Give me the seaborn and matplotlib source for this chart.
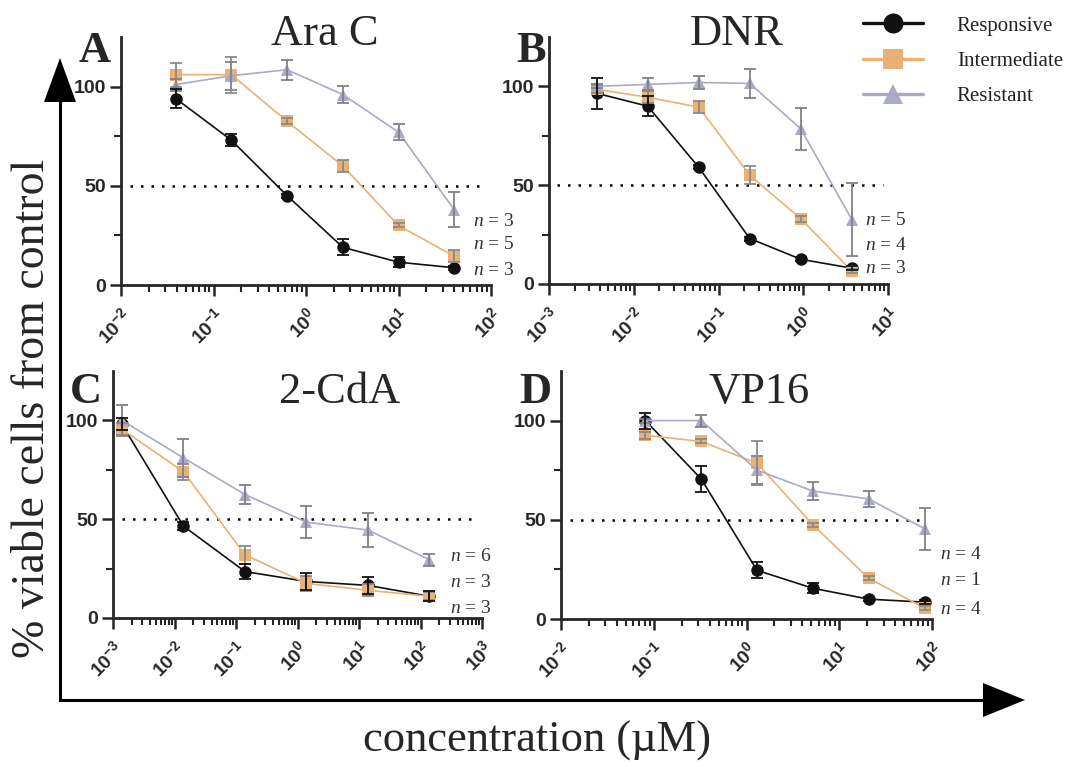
import numpy as np
import pandas as pd
import matplotlib.pyplot as plt
from matplotlib.patches import Polygon
from matplotlib.ticker import FixedLocator, LogLocator, NullFormatter
import seaborn as sns

FIG_W, FIG_H = 1069, 767

GROUPS = ["Responsive", "Intermediate", "Resistant"]
PALETTE = {"Responsive": "#111111", "Intermediate": "#E9B274", "Resistant": "#A9ABC6"}
ERR_COLORS = {"Responsive": "#111111", "Intermediate": "#8A8A8A", "Resistant": "#808088"}
MARKERS = {"Responsive": "o", "Intermediate": "s", "Resistant": "^"}

# ---------------------------------------------------------------------------
# Data (mean % viable cells, SEM)
# ---------------------------------------------------------------------------

# A - Ara C
arac_conc = [0.039, 0.156, 0.625, 2.5, 10, 40]
arac_resp = [94, 73, 45, 19, 11.5, 8.7]
arac_resp_err = [5, 3, 1, 4, 2.5, 1]
arac_int = [106, 106, 82.5, 60, 30, 14.5]
arac_int_err = [6, 9, 1.5, 3, 1, 3]
arac_res = [101, 105.5, 108.5, 96, 77, 38]
arac_res_err = [3, 7, 5, 4.5, 4, 9]
arac_n = [3, 5, 3]

# B - DNR
dnr_conc = [0.00366, 0.0146, 0.0586, 0.234, 0.9375, 3.75]
dnr_resp = [96.5, 90, 59, 23, 12.5, 8]
dnr_resp_err = [8, 5, 1, 1, 1, 1]
dnr_int = [98.5, 94.5, 89.5, 55, 33, 6.5]
dnr_int_err = [2, 3, 3, 4.5, 1.5, 1]
dnr_res = [100, 101, 102, 101.5, 78.5, 32.5]
dnr_res_err = [1, 3, 3.5, 7.5, 10.5, 18.5]
dnr_n = [5, 4, 3]

# C - 2-CdA
cda_conc = [0.0014, 0.014, 0.14, 1.4, 14, 140]
cda_resp = [98, 46.5, 23.5, 18.5, 16.5, 11]
cda_resp_err = [3, 2, 4, 4.5, 4.5, 2.5]
cda_int = [95.5, 74, 32, 17.5, 14, 11]
cda_int_err = [3, 4, 4.5, 4, 3, 2]
cda_res = [100, 81, 62.5, 48.5, 44.5, 29.5]
cda_res_err = [8, 9.5, 5, 8, 8.5, 3]
cda_n = [6, 3, 3]

# D - VP16
vp_conc = [0.0814, 0.326, 1.3, 5.2, 20.8, 83.3]
vp_resp = [100, 70.5, 24.5, 15.5, 10, 8.5]
vp_resp_err = [4, 6.5, 4, 2.5, 1, 1]
vp_int = [92.5, 89.5, 78.5, 47.5, 20.5, 5.5]
vp_int_err = [2, 1, 11, 1, 1, 1]
vp_res = [100, 100, 75, 64.5, 60.5, 45.5]
vp_res_err = [1, 3, 7, 4.5, 4, 10.5]
vp_n = [4, 1, 4]


# ---------------------------------------------------------------------------
# Helpers
# ---------------------------------------------------------------------------

def px_rect(left, top, right, bottom):
    """Pixel box (origin top-left) -> figure-fraction rect."""
    return [left / FIG_W, 1 - bottom / FIG_H, (right - left) / FIG_W, (bottom - top) / FIG_H]


def make_frame(conc, values, errors):
    rows = []
    for group, ys, es in zip(GROUPS, values, errors):
        for c, v, s in zip(conc, ys, es):
            rows.append((c, v, s, group))
    return pd.DataFrame(rows, columns=["conc", "viability", "sem", "group"])


def draw_panel(ax, df, decades, n_values, n_x, n_y, legend=False):
    ax.patch.set_alpha(0)
    ax.set_xscale("log")

    for g, z in zip(GROUPS, [3.3, 3.2, 3.1]):
        sub = df[df["group"] == g]
        ax.errorbar(sub["conc"], sub["viability"], yerr=sub["sem"], fmt="none",
                    ecolor=ERR_COLORS[g], elinewidth=1.3, capsize=4.5, capthick=1.3,
                    zorder=z)

    sns.lineplot(data=df, x="conc", y="viability", hue="group", style="group",
                 hue_order=GROUPS, style_order=GROUPS, palette=PALETTE,
                 markers=MARKERS, dashes=False, markersize=9,
                 markeredgewidth=0, linewidth=1.2, legend=legend, ax=ax)
    for line, z in zip(ax.lines, [5, 4, 3]):
        line.set_zorder(z)

    ax.axhline(50, xmin=0.025, xmax=0.985, color="black", lw=1.8,
               ls=(0, (1, 3.2)), zorder=1)

    lo, hi = decades
    ax.set_xlim(10.0 ** lo, 10.0 ** hi)
    ax.set_ylim(0, 125)
    exps = np.arange(lo, hi + 1)
    ax.set_xticks(10.0 ** exps)
    ax.set_xticklabels([rf"$\mathbf{{10^{{{e}}}}}$" for e in exps], fontsize=14,
                       rotation=45, ha="right", va="top", rotation_mode="anchor")
    ax.xaxis.set_minor_locator(LogLocator(base=10, subs=np.arange(2, 10), numticks=20))
    ax.xaxis.set_minor_formatter(NullFormatter())
    ax.set_yticks([0, 50, 100])
    ax.set_yticklabels(["0", "50", "100"], fontsize=14, fontweight="bold",
                       family="Liberation Sans")
    ax.yaxis.set_minor_locator(FixedLocator([25, 75]))

    ax.tick_params(which="major", length=8, width=1.8, direction="out", pad=3)
    ax.tick_params(which="minor", length=5, width=1.5, direction="out")
    ax.tick_params(axis="x", which="major", pad=6)
    for s in ["left", "bottom"]:
        ax.spines[s].set_linewidth(2.0)
    sns.despine(ax=ax)
    ax.set_xlabel("")
    ax.set_ylabel("")

    # n = ... annotations at right
    for n, y in zip(n_values, n_y):
        ax.text(n_x, y, rf"$n$ = {n}", transform=ax.get_yaxis_transform(),
                fontsize=14, color="#333333", va="center", ha="left",
                family="Liberation Serif")


# ---------------------------------------------------------------------------
# Main
# ---------------------------------------------------------------------------

def main():
    sns.set_style("ticks")
    plt.rcParams["font.family"] = ["Liberation Serif", "DejaVu Serif"]
    plt.rcParams["mathtext.fontset"] = "custom"
    plt.rcParams["mathtext.rm"] = "Liberation Serif"
    plt.rcParams["mathtext.it"] = "Liberation Serif:italic"
    plt.rcParams["mathtext.bf"] = "Liberation Sans:bold"

    fig = plt.figure(figsize=(FIG_W / 100, FIG_H / 100), dpi=100)

    # overlay for the big arrows / shared labels (pixel coords)
    ov = fig.add_axes([0, 0, 1, 1])
    ov.set_xlim(0, FIG_W)
    ov.set_ylim(FIG_H, 0)
    ov.axis("off")
    ov.plot([60, 60, 985], [100, 700, 700], color="black", lw=2.2,
            solid_joinstyle="miter")
    ov.add_patch(Polygon([(44, 102), (76, 102), (60, 58)], closed=True,
                         color="black", lw=0))
    ov.add_patch(Polygon([(983, 683), (983, 717), (1025, 700)], closed=True,
                         color="black", lw=0))
    ov.text(33, 408, "% viable cells from control", rotation=90, fontsize=33,
            ha="center", va="center")
    ov.text(537, 752, "concentration (\u00b5M)", fontsize=32, ha="center",
            va="baseline")

    panels = [
        ("A", "Ara C", (121, 37, 491, 285), (-2, 2),
         arac_conc, [arac_resp, arac_int, arac_res],
         [arac_resp_err, arac_int_err, arac_res_err], arac_n,
         0.951, [31.8, 20.2, 7.2], (95, 62), (325, 45)),
        ("B", "DNR", (549, 37, 888, 284), (-3, 1),
         dnr_conc, [dnr_resp, dnr_int, dnr_res],
         [dnr_resp_err, dnr_int_err, dnr_res_err], dnr_n,
         0.932, [32, 19.3, 7.6], (531, 62), (737, 45)),
        ("C", "2-CdA", (113, 371, 482, 618), (-3, 3),
         cda_conc, [cda_resp, cda_int, cda_res],
         [cda_resp_err, cda_int_err, cda_res_err], cda_n,
         0.913, [30.9, 17.9, 4.8], (86, 403), (340, 403)),
        ("D", "VP16", (561, 371, 932, 619), (-2, 2),
         vp_conc, [vp_resp, vp_int, vp_res],
         [vp_resp_err, vp_int_err, vp_res_err], vp_n,
         1.022, [32.5, 19.5, 4.7], (535, 403), (759, 403)),
    ]

    legend_ax = None
    for letter, title, box, decades, conc, vals, errs, n_vals, n_x, n_y, lpos, tpos in panels:
        ax = fig.add_axes(px_rect(*box))
        df = make_frame(conc, vals, errs)
        draw_panel(ax, df, decades, n_vals, n_x, n_y, legend=(letter == "B"))
        if letter == "B":
            legend_ax = ax
        ov.text(*lpos, letter, fontsize=32, fontweight="bold", ha="center",
                va="baseline")
        ov.text(*tpos, title, fontsize=32, ha="center", va="baseline")

    handles, labels = legend_ax.get_legend_handles_labels()
    legend_ax.get_legend().remove()
    leg = fig.legend(handles, labels, loc="upper left",
                     bbox_to_anchor=(863 / FIG_W, 1 - 16 / FIG_H),
                     frameon=False, fontsize=15, markerscale=1.6,
                     handlelength=2.9, handletextpad=1.6, labelspacing=0.75,
                     borderpad=0, borderaxespad=0)
    for h in leg.legend_handles:
        h.set_linewidth(2.4)
    for t in leg.get_texts():
        t.set_color("#222222")

    fig.savefig("out.png", dpi=100)


if __name__ == "__main__":
    main()
